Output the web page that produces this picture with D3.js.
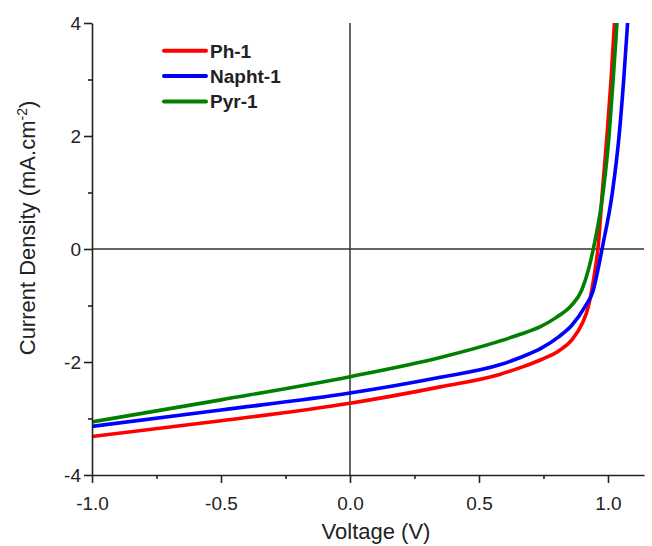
<!DOCTYPE html>
<html>
<head>
<meta charset="utf-8">
<script src="https://cdn.jsdelivr.net/npm/d3@7"></script>
<style>
  html, body { margin: 0; padding: 0; background: #fff; }
  svg { display: block; font-family: "Liberation Sans", Arial, sans-serif; }
</style>
</head>
<body>
<svg id="chart" width="652" height="546"></svg>
<script>
// ---- data ----
const seriesNames = ["Ph-1", "Napht-1", "Pyr-1"];
const seriesColors = ["#ff0000", "#0000ff", "#008000"];

const voltPh = [-1.0, -0.5, 0.0, 0.35, 0.58, 0.66, 0.74, 0.81, 0.86, 0.90, 0.924, 0.937, 0.95, 0.961, 0.978, 0.996, 1.012, 1.025];
const currPh = [-3.32, -3.04, -2.73, -2.44, -2.22, -2.10, -1.96, -1.80, -1.61, -1.32, -1.02, -0.73, -0.37, 0.0, 1.0, 2.0, 3.0, 4.0];

const voltNapht = [-1.0, -0.5, 0.0, 0.35, 0.58, 0.66, 0.74, 0.81, 0.86, 0.911, 0.943, 0.961, 0.977, 1.017, 1.043, 1.061, 1.076];
const currNapht = [-3.14, -2.85, -2.55, -2.27, -2.05, -1.92, -1.76, -1.55, -1.35, -1.02, -0.73, -0.37, 0.0, 1.0, 2.0, 3.0, 4.0];

const voltPyr = [-1.0, -0.5, 0.0, 0.35, 0.58, 0.66, 0.74, 0.80, 0.86, 0.898, 0.924, 0.943, 0.981, 1.004, 1.02, 1.035];
const currPyr = [-3.06, -2.67, -2.26, -1.92, -1.63, -1.51, -1.37, -1.21, -0.99, -0.73, -0.37, 0.0, 1.0, 2.0, 3.0, 4.0];

const xMajorTicks = [-1.0, -0.5, 0.0, 0.5, 1.0];
const xMinorTicks = [-0.75, -0.25, 0.25, 0.75];
const yMajorTicks = [-4, -2, 0, 2, 4];
const yMinorTicks = [-3, -1, 1, 3];

const xTitle = "Voltage (V)";
const yTitleMain = "Current Density (mA.cm";
const yTitleSup = "-2";

// ---- build ----
const seriesVolt = [voltPh, voltNapht, voltPyr];
const seriesCurr = [currPh, currNapht, currPyr];
const series = seriesNames.map((name, i) => ({
  name, color: seriesColors[i],
  points: seriesVolt[i].map((v, k) => ({ v, j: seriesCurr[i][k] }))
}));

const svg = d3.select("#chart");
const x = d3.scaleLinear().domain([-1, 1.14]).range([92, 644.1]);
const y = d3.scaleLinear().domain([-4, 4]).range([475, 23]);
const axisColor = "#222";

// zero lines
svg.append("line")
  .attr("x1", x(0)).attr("x2", x(0)).attr("y1", y(4)).attr("y2", y(-4))
  .attr("stroke", "#333").attr("stroke-width", 1.5);
svg.append("line")
  .attr("x1", x(-1)).attr("x2", x(1.14)).attr("y1", y(0)).attr("y2", y(0))
  .attr("stroke", "#333").attr("stroke-width", 1.5);

// clip
svg.append("clipPath").attr("id", "plotclip")
  .append("rect").attr("x", x(-1)).attr("y", y(4) - 2)
  .attr("width", x(1.14) - x(-1)).attr("height", y(-4) - y(4) + 2);

const line = d3.line().x(d => x(d.v)).y(d => y(d.j)).curve(d3.curveMonotoneX);
svg.append("g").attr("clip-path", "url(#plotclip)")
  .selectAll("path").data(series).join("path")
  .attr("d", d => line(d.points))
  .attr("fill", "none")
  .attr("stroke", d => d.color)
  .attr("stroke-width", 3.6)
  .attr("stroke-linejoin", "round");

// axes
const fmtX = d => d.toFixed(1);
const fmtY = d => String(d);

const gx = svg.append("g").attr("transform", `translate(0,${y(-4)})`);
gx.call(d3.axisBottom(x).tickValues(xMajorTicks).tickFormat(fmtX).tickSize(8).tickSizeOuter(0).tickPadding(14));
const gxm = svg.append("g").attr("transform", `translate(0,${y(-4)})`);
gxm.call(d3.axisBottom(x).tickValues(xMinorTicks).tickFormat("").tickSize(4).tickSizeOuter(0));
gxm.select(".domain").remove();

const gy = svg.append("g").attr("transform", `translate(${x(-1)},0)`);
gy.call(d3.axisLeft(y).tickValues(yMajorTicks).tickFormat(fmtY).tickSize(8).tickSizeOuter(0).tickPadding(3));
const gym = svg.append("g").attr("transform", `translate(${x(-1)},0)`);
gym.call(d3.axisLeft(y).tickValues(yMinorTicks).tickFormat("").tickSize(4).tickSizeOuter(0));
gym.select(".domain").remove();

svg.selectAll(".domain").attr("stroke", axisColor).attr("stroke-width", 1.6);
svg.selectAll(".tick line").attr("stroke", axisColor).attr("stroke-width", 1.6);
svg.selectAll(".tick text")
  .attr("font-family", "'Liberation Sans', Arial, sans-serif")
  .attr("font-size", 19).attr("fill", "#222");

// axis titles
svg.append("text")
  .attr("x", 376).attr("y", 539)
  .attr("text-anchor", "middle")
  .attr("font-size", 22).attr("fill", "#222")
  .text(xTitle);

const yt = svg.append("text")
  .attr("transform", "translate(35,228) rotate(-90)")
  .attr("text-anchor", "middle")
  .attr("font-size", 22).attr("fill", "#222");
yt.append("tspan").text(yTitleMain);
yt.append("tspan").attr("dy", -8).attr("font-size", 14).text(yTitleSup);
yt.append("tspan").attr("dy", 8).text(")");

// legend
const legendY0 = 50.7, legendStep = 25.4;
const lg = svg.append("g");
series.forEach((s, i) => {
  const ly = legendY0 + i * legendStep;
  lg.append("line")
    .attr("x1", 164).attr("x2", 206).attr("y1", ly).attr("y2", ly)
    .attr("stroke", s.color).attr("stroke-width", 4).attr("stroke-linecap", "round");
  lg.append("text")
    .attr("x", 210).attr("y", ly).attr("dy", "0.36em")
    .attr("font-size", 19).attr("font-weight", "bold").attr("fill", "#222")
    .text(s.name);
});
</script>
</body>
</html>
